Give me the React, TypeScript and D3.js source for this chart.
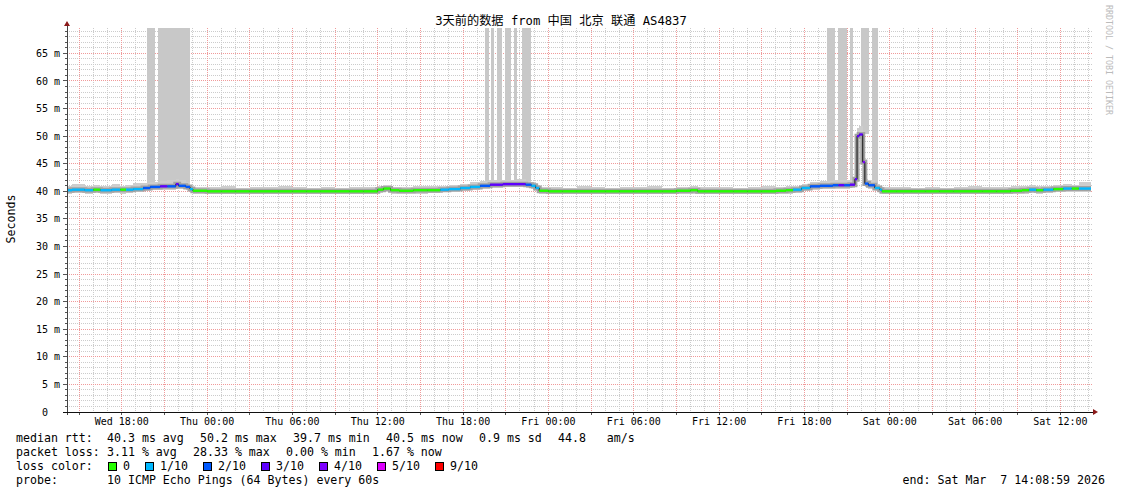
import { useEffect } from "react";
import * as d3 from "d3";

// hours since Wed Mar 4 00:00, one step per sample
const HOURS = [
  14.15, 14.5, 15.4, 16.0, 16.5, 17.3, 17.9, 18.3, 18.8, 19.5, 20.0, 20.7, 21.2, 21.8, 22.0, 22.5, 22.8, 23.0,
  24, 25, 26, 27, 28, 29, 30, 31, 32, 33, 34, 35,
  36.0, 36.4, 36.9, 37.5, 38.5, 39.5,
  40.4, 41.0, 41.8, 42.5, 43.2, 43.9, 44.8, 45.8, 46.4, 46.8, 47.1, 47.35,
  48, 49, 50, 51, 52, 53, 54, 55, 56, 57, 58, 58.5, 59, 60, 61, 62, 63, 64, 64.7,
  65.2, 65.8, 66.4, 67.1, 68.0, 68.4, 68.8, 69.2, 69.55, 69.7, 69.85, 70.1, 70.25, 70.5, 70.95, 71.3, 71.45,
  72.5, 73.5, 74.5, 75.5, 76.5, 77.5, 78.5, 79.5, 80.5, 81.3, 81.8, 82.3, 82.8, 83.5, 84.2, 84.8, 85.3,
];

// median rtt (ms)
const MEDIAN = [
  40.2, 40.3, 40.2, 40.3, 40.2, 40.3, 40.3, 40.3, 40.4, 40.6, 40.8, 40.9, 40.9, 41.3, 41.0, 40.8, 40.4, 40.1,
  40.0, 40.0, 40.0, 40.0, 40.0, 40.0, 40.0, 40.0, 40.0, 40.0, 40.0, 40.0,
  40.3, 40.5, 40.2, 40.1, 40.2, 40.2,
  40.3, 40.4, 40.6, 40.8, 41.0, 41.2, 41.3, 41.3, 41.2, 41.0, 40.6, 40.1,
  40.0, 40.0, 40.0, 40.0, 40.0, 40.0, 40.0, 40.0, 40.0, 40.1, 40.2, 40.0, 40.0, 40.0, 40.0, 40.0, 40.0, 40.1, 40.2,
  40.3, 40.6, 40.9, 41.0, 41.1, 41.1, 41.1, 41.2, 42.2, 50.0, 50.3, 45.3, 41.4, 41.1, 40.6, 40.3, 40.0,
  40.0, 40.0, 40.0, 40.0, 40.0, 40.0, 40.0, 40.0, 40.1, 40.2, 40.3, 40.2, 40.3, 40.4, 40.5, 40.5, 40.5,
];

// smoke: slowest / fastest ping of each step (ms)
const SMOKE_HI = [
  41.0, 41.3, 41.0, 41.2, 41.0, 41.4, 41.0, 41.1, 41.5, 41.5, 41.6, 41.8, 42.0, 42.3, 42.0, 41.6, 41.0, 40.7,
  40.7, 40.9, 40.6, 40.8, 40.7, 41.0, 40.7, 40.6, 40.8, 40.6, 40.7, 40.8,
  40.9, 41.1, 40.8, 40.8, 40.9, 41.0,
  41.0, 41.1, 41.3, 41.6, 41.8, 42.0, 42.1, 42.2, 41.9, 41.6, 41.2, 40.8,
  40.8, 40.6, 40.9, 40.7, 40.6, 40.8, 40.7, 41.0, 40.6, 40.8, 40.9, 40.7, 40.7, 40.8, 40.6, 40.7, 40.9, 40.7, 40.9,
  41.0, 41.4, 41.6, 41.9, 42.0, 42.1, 42.0, 42.0, 43.5, 51.5, 51.8, 46.5, 42.3, 42.0, 41.4, 40.9, 40.8,
  40.7, 40.6, 40.8, 40.6, 40.7, 40.9, 40.7, 40.8, 40.9, 41.0, 41.1, 40.9, 41.0, 41.2, 41.3, 41.1, 41.6,
];
const SMOKE_LO = [
  39.6, 39.7, 39.6, 39.7, 39.6, 39.7, 39.6, 39.7, 39.8, 40.0, 40.2, 40.3, 40.3, 40.5, 40.4, 40.2, 39.9, 39.6,
  39.5, 39.6, 39.5, 39.5, 39.5, 39.6, 39.5, 39.5, 39.6, 39.5, 39.5, 39.6,
  39.7, 39.9, 39.6, 39.6, 39.6, 39.7,
  39.8, 39.9, 40.0, 40.2, 40.4, 40.6, 40.7, 40.7, 40.6, 40.4, 40.0, 39.6,
  39.5, 39.5, 39.6, 39.5, 39.5, 39.6, 39.5, 39.5, 39.6, 39.5, 39.6, 39.5, 39.5, 39.6, 39.5, 39.5, 39.6, 39.5, 39.6,
  39.7, 40.0, 40.3, 40.4, 40.5, 40.5, 40.5, 40.6, 41.5, 49.3, 49.5, 44.5, 40.8, 40.5, 40.0, 39.7, 39.5,
  39.5, 39.5, 39.6, 39.5, 39.5, 39.6, 39.5, 39.5, 39.6, 39.6, 39.7, 39.6, 39.7, 39.8, 39.9, 39.8, 39.9,
];

// loss colour level per step (index into LOSS_LEVELS)
const LOSS = [
  1, 1, 1, 0, 1, 1, 0, 1, 1, 2, 2, 3, 2, 3, 2, 2, 1, 0,
  0, 0, 0, 0, 0, 0, 0, 0, 0, 0, 0, 0,
  0, 0, 0, 0, 0, 0,
  1, 1, 1, 1, 2, 3, 3, 3, 2, 1, 1, 0,
  0, 0, 0, 0, 0, 0, 0, 0, 0, 0, 0, 0, 0, 0, 0, 0, 0, 0, 0,
  1, 1, 2, 2, 2, 3, 2, 3, 3, 3, 3, 4, 2, 2, 1, 1, 0,
  0, 0, 0, 0, 0, 0, 0, 0, 0, 0, 1, 0, 1, 0, 1, 0, 1,
];

// timed-out pings, shown as tall smoke columns (hours since Wed 00:00)
const LOST_FROM = [19.78, 20.55, 43.54, 43.96, 44.38, 44.95, 45.58, 46.14, 67.59, 68.36, 69.21, 69.98, 70.75];
const LOST_TO = [20.34, 22.8, 43.82, 44.17, 44.74, 45.37, 45.79, 46.78, 68.15, 68.99, 69.42, 70.54, 71.17];

const LOSS_LEVELS = ["0", "1/10", "2/10", "3/10", "4/10", "5/10", "9/10"];
const LOSS_COLORS = ["#26ff00", "#00b8ff", "#0059ff", "#5e00ff", "#7e00ff", "#dd00ff", "#ff0000"];

const Y_TICKS = [0, 5, 10, 15, 20, 25, 30, 35, 40, 45, 50, 55, 60, 65];

const TITLE = "3天前的数据 from 中国 北京 联通 AS4837";
const RTT_STATS = ["40.3 ms avg", "50.2 ms max", "39.7 ms min", "40.5 ms now", "0.9 ms sd", "44.8   am/s"];
const LOSS_STATS = ["3.11 % avg", "28.33 % max", "0.00 % min", "1.67 % now"];
const PROBE = "10 ICMP Echo Pings (64 Bytes) every 60s";
const END_TEXT = "end: Sat Mar  7 14:08:59 2026";

const MONO = "'DejaVu Sans Mono', 'Noto Sans CJK SC', monospace";

// keep runs of spaces as rrdtool prints them
const nb = (s: string) => s.replace(/ /g, "\u00a0");

// legend items sit one after another, 7px per char plus a 16px gap
const placeItems = (items: string[], start: number) => {
  const out: number[] = [];
  items.reduce((acc, s) => {
    out.push(acc);
    return acc + s.length * 7 + 16;
  }, start);
  return out;
};

export default function App() {
  useEffect(() => {
    document.body.style.margin = "0";
  }, []);

  const W = 1121;
  const H = 494;
  const left = 67;
  const right = 1091;
  const top = 28;
  const bottom = 412;

  const t0 = new Date(2026, 2, 4, 14, 8, 59);
  const t1 = new Date(2026, 2, 7, 14, 8, 59);
  const base = new Date(2026, 2, 4).getTime();
  const toDate = (h: number) => new Date(base + h * 3600e3);

  const x = d3.scaleTime().domain([t0, t1]).range([left, right]);
  const y = d3.scaleLinear().domain([0, 69.6]).range([bottom, top]);

  const rows = HOURS.map((h, i) => ({
    t: toDate(h),
    m: MEDIAN[i],
    hi: SMOKE_HI[i],
    lo: SMOKE_LO[i],
    loss: LOSS[i],
  }));
  const pts = [...rows, { ...rows[rows.length - 1], t: t1 }];

  const smoke = d3
    .area<any>()
    .curve(d3.curveStepAfter)
    .x((d) => x(d.t))
    .y0((d) => y(d.lo))
    .y1((d) => y(d.hi))(pts)!;
  const medLine = d3
    .line<any>()
    .curve(d3.curveStepAfter)
    .x((d) => x(d.t))
    .y((d) => y(d.m))(pts)!;

  const medianAt = (h: number) => {
    const i = Math.max(0, d3.bisectRight(HOURS, h) - 1);
    return MEDIAN[i];
  };

  // grid
  const hours = d3.timeHour.every(1)!.range(t0, t1);
  const minorX = hours.filter((d) => d.getHours() % 3 !== 0);
  const majorX = hours.filter((d) => d.getHours() % 3 === 0);
  const labelX = hours.filter((d) => d.getHours() % 6 === 0);
  const minorY = d3.range(1, 70).filter((v) => v % 5 !== 0);
  const majorY = Y_TICKS.filter((v) => v > 0);
  const fmt = d3.timeFormat("%a %H:%M");

  const rttX = placeItems(RTT_STATS, 107);
  const lossX = placeItems(LOSS_STATS, 107);
  const boxX: number[] = [];
  LOSS_LEVELS.reduce((acc, s) => {
    boxX.push(acc);
    return acc + 30 + s.length * 7;
  }, 108);

  return (
    <svg
      width={W}
      height={H}
      style={{ position: "absolute", left: 0, top: 0, background: "#fff" }}
      fontFamily={MONO}
    >
      <rect width={W} height={H} fill="#fff" />

      {/* minor grid */}
      <g stroke="#cccccc" strokeDasharray="1 1" shapeRendering="crispEdges">
        {minorY.map((v) => (
          <line key={"my" + v} x1={left} x2={right + 2} y1={y(v)} y2={y(v)} />
        ))}
        {minorX.map((d) => (
          <line key={"mx" + +d} x1={x(d)} x2={x(d)} y1={top} y2={bottom} />
        ))}
      </g>
      {/* major grid */}
      <g stroke="#f09a9a" strokeDasharray="1 1" shapeRendering="crispEdges">
        {majorY.map((v) => (
          <line key={"My" + v} x1={left} x2={right + 2} y1={y(v)} y2={y(v)} />
        ))}
        {majorX.map((d) => (
          <line key={"Mx" + +d} x1={x(d)} x2={x(d)} y1={top} y2={bottom} />
        ))}
      </g>

      {/* lost pings */}
      <g fill="#c8c8c8" shapeRendering="crispEdges">
        {LOST_FROM.map((h, i) => (
          <rect
            key={"l" + i}
            x={x(toDate(h))}
            width={x(toDate(LOST_TO[i])) - x(toDate(h))}
            y={top}
            height={y(medianAt(h)) - top}
          />
        ))}
      </g>

      {/* smoke */}
      <path d={smoke} fill="#cdcdcd" shapeRendering="crispEdges" />
      <path d={medLine} fill="none" stroke="#a2a2a2" strokeWidth={5} />
      <path d={medLine} fill="none" stroke="#111" strokeWidth={1} />
      {rows.map((r, i) => (
        <line
          key={"s" + i}
          x1={x(r.t)}
          x2={x(pts[i + 1].t)}
          y1={y(r.m)}
          y2={y(r.m)}
          stroke={LOSS_COLORS[r.loss]}
          strokeWidth={2.4}
        />
      ))}

      {/* axes */}
      <g stroke="#555" shapeRendering="crispEdges">
        {minorY.map((v) => (
          <line key={"ty" + v} x1={left - 2} x2={left} y1={y(v)} y2={y(v)} />
        ))}
        {majorY.map((v) => (
          <line key={"TY" + v} x1={left - 4} x2={left} y1={y(v)} y2={y(v)} />
        ))}
        {majorX.map((d) => (
          <line key={"TX" + +d} x1={x(d)} x2={x(d)} y1={bottom} y2={bottom + 3} />
        ))}
        <line x1={left} x2={left} y1={bottom + 3} y2={top - 4} stroke="#444" />
        <line x1={left - 4} x2={right + 3} y1={bottom} y2={bottom} stroke="#111" />
      </g>
      <polygon points={`${left - 3},${top - 2} ${left + 3},${top - 2} ${left},${top - 7}`} fill="#8b1a1a" />
      <polygon
        points={`${right + 2},${bottom - 3} ${right + 2},${bottom + 3} ${right + 7},${bottom}`}
        fill="#8b1a1a"
      />

      {/* tick labels */}
      <g fontSize={10} fill="#000">
        {Y_TICKS.map((v) => (
          <text key={"yl" + v} x={v === 0 ? 48 : 60} y={y(v) + 3.6} textAnchor="end">
            {v === 0 ? "0" : nb(`${v} m`)}
          </text>
        ))}
        {labelX.map((d) => (
          <text key={"xl" + +d} x={x(d)} y={425} textAnchor="middle">
            {nb(fmt(d))}
          </text>
        ))}
      </g>

      {/* title and side texts */}
      <text x={561} y={25} textAnchor="middle" fontSize={12.2} fill="#000">
        {TITLE}
      </text>
      <text transform="translate(15,219) rotate(-90)" textAnchor="middle" fontSize={11.6} fill="#000">
        Seconds
      </text>
      <text transform="translate(1106,5) rotate(90)" fontSize={8.3} fill="#bbb">
        {nb("RRDTOOL / TOBI OETIKER")}
      </text>

      {/* legend */}
      <g fontSize={11.6} fill="#000">
        <text x={16} y={442}>{nb("median rtt:")}</text>
        {RTT_STATS.map((s, i) => (
          <text key={"r" + i} x={rttX[i]} y={442}>
            {nb(s)}
          </text>
        ))}
        <text x={16} y={456}>{nb("packet loss:")}</text>
        {LOSS_STATS.map((s, i) => (
          <text key={"p" + i} x={lossX[i]} y={456}>
            {nb(s)}
          </text>
        ))}
        <text x={16} y={470}>{nb("loss color:")}</text>
        {LOSS_LEVELS.map((s, i) => (
          <g key={"b" + i}>
            <rect
              x={boxX[i] + 0.5}
              y={462.5}
              width={8}
              height={8}
              fill={LOSS_COLORS[i]}
              stroke="#000"
              strokeWidth={1}
            />
            <text x={boxX[i] + 15} y={470}>
              {s}
            </text>
          </g>
        ))}
        <text x={16} y={484}>probe:</text>
        <text x={107} y={484}>{nb(PROBE)}</text>
        <text x={1105} y={484} textAnchor="end">
          {nb(END_TEXT)}
        </text>
      </g>
    </svg>
  );
}
